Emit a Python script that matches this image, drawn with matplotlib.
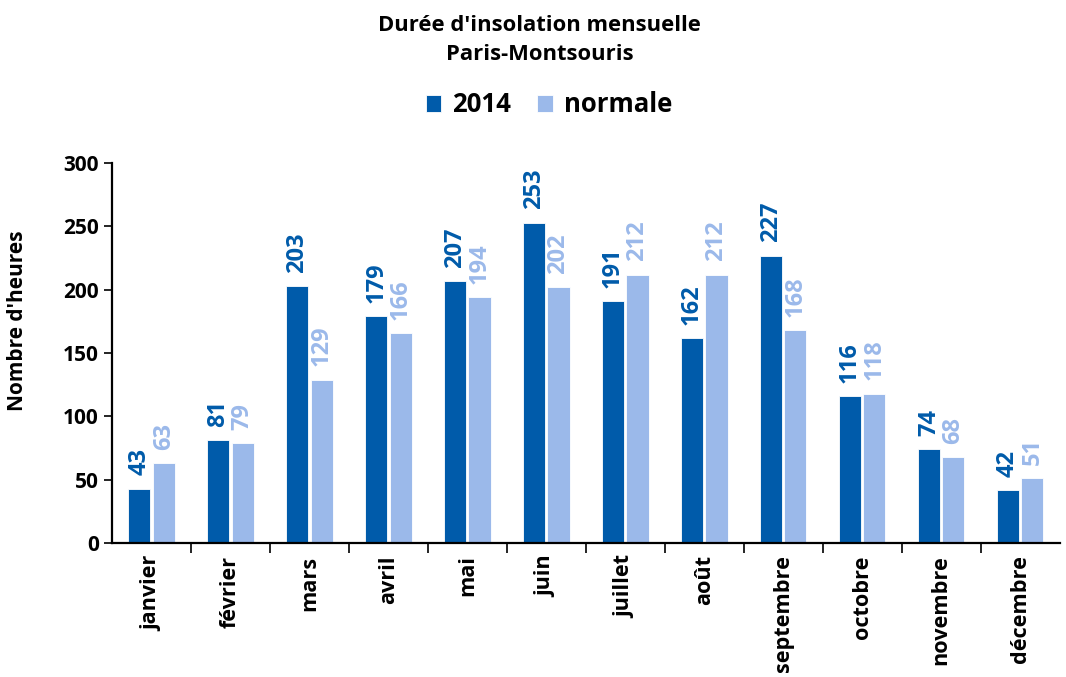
"""Durée d'insolation mensuelle, Paris-Montsouris : 2014 vs normale."""

import numpy as np
import matplotlib
matplotlib.use('Agg')
import matplotlib.pyplot as plt

mois = ['janvier', 'février', 'mars', 'avril', 'mai', 'juin', 'juillet',
        'août', 'septembre', 'octobre', 'novembre', 'décembre']
heures_2014 = [43, 81, 203, 179, 207, 253, 191, 162, 227, 116, 74, 42]
heures_normale = [63, 79, 129, 166, 194, 202, 212, 212, 168, 118, 68, 51]

DARK = '#005BAA'
LIGHT = '#9BB9EA'

plt.rcParams['font.family'] = ['Open Sans', 'DejaVu Sans']
plt.rcParams['font.weight'] = 'bold'

fig = plt.figure(figsize=(10.66, 6.77), dpi=100)
ax = fig.add_axes([0.105, 0.198, 0.889, 0.561])

x = np.arange(len(mois))
w = 0.28
off = 0.155
b1 = ax.bar(x - off, heures_2014, width=w, color=DARK, edgecolor='white',
            linewidth=0.6, label='2014')
b2 = ax.bar(x + off, heures_normale, width=w, color=LIGHT, edgecolor='white',
            linewidth=0.6, label='normale')

# value labels, rotated like the original
for bars, vals, col in [(b1, heures_2014, DARK), (b2, heures_normale, LIGHT)]:
    for r, v in zip(bars, vals):
        ax.annotate(str(v), (r.get_x() + r.get_width() / 2, v),
                    xytext=(0, 9.5), textcoords='offset points',
                    rotation=90, ha='center', va='bottom',
                    color=col, fontsize=17, fontweight='bold')

ax.set_xlim(-0.5, len(mois) - 0.5)
ax.set_ylim(0, 300)
ax.set_yticks(range(0, 301, 50))
ax.tick_params(axis='y', labelsize=15, direction='out', length=6, width=1.2)

ax.set_xticks(x)
ax.set_xticklabels(mois, rotation=90, fontsize=15.6, fontweight='bold')
ax.set_xticks(np.arange(0.5, len(mois) - 0.5, 1), minor=True)
ax.tick_params(axis='x', which='major', length=0, pad=9)
ax.tick_params(axis='x', which='minor', length=7, width=1.2, direction='out')

for s in ['top', 'right']:
    ax.spines[s].set_visible(False)
for s in ['left', 'bottom']:
    ax.spines[s].set_linewidth(1.6)

ax.set_ylabel("Nombre d'heures", fontsize=15, fontweight='bold')
ax.yaxis.set_label_coords(-0.089, 0.584)

fig.text(0.506, 0.941, "Durée d'insolation mensuelle\nParis-Montsouris",
         ha='center', va='center', fontsize=15.8, fontweight='bold',
         linespacing=1.45)

fig.legend(handles=[b1, b2], labels=['2014', 'normale'],
           loc='center', bbox_to_anchor=(0.515, 0.845), ncol=2,
           frameon=False, fontsize=18.5, handlelength=0.6, handleheight=0.6,
           handletextpad=0.45, columnspacing=1.0)

fig.savefig('out.png', dpi=100)
